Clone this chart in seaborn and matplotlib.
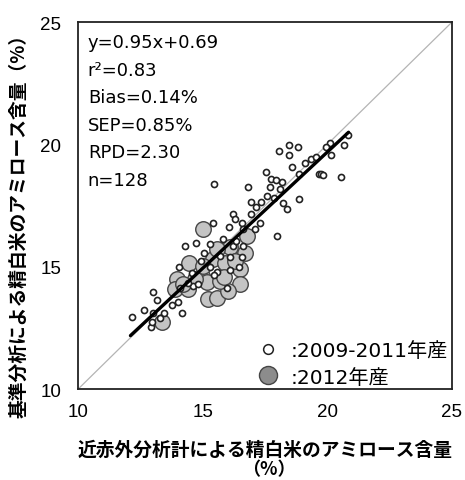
import matplotlib
matplotlib.use("Agg")
import matplotlib.pyplot as plt
from matplotlib.lines import Line2D
import numpy as np
import pandas as pd
import seaborn as sns

# Amylose content of milled rice: NIR analyser (x) vs. reference method (y), %
nir_0911 = [12.18, 12.65, 13.01, 13.15, 12.99, 12.92, 12.95, 13.75, 14.02, 14.15,
            14.04, 14.30, 14.73, 14.92, 15.29, 15.42, 15.46, 15.80, 16.07, 16.20,
            16.31, 16.56, 16.83, 16.93, 16.93, 17.30, 17.34, 17.53, 17.70, 17.74,
            17.87, 17.57, 17.97, 18.24, 18.40, 18.57, 18.88, 18.88, 19.35, 19.55,
            19.67, 19.75, 19.82, 18.04, 18.45, 18.81, 18.48, 18.08, 20.11, 20.14,
            20.55, 20.65, 20.81, 16.44, 15.99, 15.56, 15.29, 14.62, 14.82, 14.09,
            16.09, 16.09, 16.56, 16.63, 16.23, 15.46, 16.63, 17.10, 13.45, 14.55,
            15.70, 16.35, 17.15, 18.20, 19.95, 15.05, 14.40, 13.30, 17.95, 19.10]
ref_0911 = [12.95, 13.24, 13.95, 13.63, 13.13, 12.54, 12.75, 13.44, 13.54, 13.13,
            14.97, 15.85, 15.96, 15.24, 15.95, 16.78, 18.38, 16.15, 16.64, 17.17,
            16.94, 16.78, 18.28, 17.66, 17.17, 16.78, 17.66, 18.87, 18.28, 18.58,
            17.83, 17.90, 16.24, 17.62, 17.38, 19.09, 17.76, 18.78, 19.39, 19.50,
            18.78, 18.78, 18.76, 19.73, 19.98, 19.88, 19.57, 18.17, 20.07, 19.57,
            18.67, 19.98, 20.37, 15.01, 14.15, 14.79, 14.97, 14.22, 14.29, 14.15,
            14.86, 15.38, 15.38, 15.85, 15.85, 14.65, 16.53, 16.53, 13.10, 14.75,
            15.45, 16.05, 17.45, 18.45, 19.90, 15.55, 14.35, 12.90, 18.55, 19.25]

nir_2012 = [15.00, 13.37, 13.95, 13.88, 14.46, 14.42, 15.22, 15.56, 15.42, 15.89,
            16.09, 16.50, 16.50, 16.03, 16.76, 16.70, 14.96, 15.16, 15.69, 15.56,
            14.69, 15.02, 14.20, 15.85, 16.30]
ref_2012 = [16.53, 12.76, 14.52, 14.08, 15.17, 14.08, 13.67, 13.74, 15.31, 15.17,
            15.79, 14.90, 14.29, 14.01, 16.24, 15.58, 14.63, 14.36, 14.42, 15.72,
            14.49, 15.03, 14.30, 14.60, 15.25]

slope, intercept = 0.95, 0.69
fit_range = [12.10, 20.85]

stats_lines = ["y=0.95x+0.69", "r²=0.83", "Bias=0.14%", "SEP=0.85%", "RPD=2.30", "n=128"]
legend_labels = [":2009-2011年産", ":2012年産"]
x_label = "近赤外分析計による精白米のアミロース含量"
x_unit = "（%）"
y_label = "基準分析による精白米のアミロース含量（%）"
axis_ticks = [10, 15, 20, 25]

df_old = pd.DataFrame({"nir": nir_0911, "ref": ref_0911})
df_new = pd.DataFrame({"nir": nir_2012, "ref": ref_2012})

sns.set_style("white")
plt.rcParams["font.family"] = ["Noto Sans CJK JP", "DejaVu Sans"]
plt.rcParams.update({"text.color": "black", "axes.labelcolor": "black",
                     "xtick.color": "black", "ytick.color": "black"})
latin_first = ["DejaVu Sans", "Noto Sans CJK JP"]

fig = plt.figure(figsize=(4.65, 4.81), dpi=100)
ax = fig.add_axes([0.168, 0.189, 0.804, 0.763])

# 1:1 reference line
ax.plot([10, 25], [10, 25], color="#b4b4b4", lw=0.9, zorder=1)

sns.scatterplot(data=df_new, x="nir", y="ref", ax=ax, s=125, color="#c4c4c4",
                edgecolor="#454545", linewidth=1.0, zorder=2)
sns.scatterplot(data=df_old, x="nir", y="ref", ax=ax, s=19, facecolor="white",
                edgecolor="#222222", linewidth=1.2, zorder=3)

fx = np.array(fit_range)
ax.plot(fx, slope * fx + intercept, color="black", lw=2.4, zorder=4,
        solid_capstyle="round")

ax.set_xlim(10, 25)
ax.set_ylim(10, 25)
ax.set_xticks(axis_ticks)
ax.set_yticks(axis_ticks)
ax.tick_params(direction="in", length=6, width=1.0, labelsize=13.5,
               color="#333333", labelcolor="black")
ax.tick_params(axis="x", pad=10)
ax.tick_params(axis="y", pad=12)
for lab in ax.get_xticklabels() + ax.get_yticklabels():
    lab.set_fontfamily(["Liberation Sans", "DejaVu Sans"])
for sp in ax.spines.values():
    sp.set_linewidth(1.3)
    sp.set_color("#222222")

ax.set_xlabel(x_label, fontsize=13.5, fontweight="bold")
ax.xaxis.set_label_coords(0.5, -0.139)
ax.text(0.51, -0.217, x_unit, transform=ax.transAxes, fontsize=13,
        fontweight="bold", ha="center", va="center")
ax.set_ylabel(y_label, fontsize=13.5, fontweight="bold")
ax.yaxis.set_label_coords(-0.134, 0.46)

ax.text(0.026, 0.97, "\n".join(stats_lines), transform=ax.transAxes,
        fontsize=13, va="top", ha="left", linespacing=1.68, family=latin_first)

handles = [
    Line2D([], [], marker="o", ls="none", markersize=7, markerfacecolor="white",
           markeredgecolor="#222222", markeredgewidth=1.1),
    Line2D([], [], marker="o", ls="none", markersize=13, markerfacecolor="#8c8c8c",
           markeredgecolor="#454545", markeredgewidth=1.0),
]
ax.legend(handles, legend_labels, loc="lower right", frameon=False,
          bbox_to_anchor=(1.01, -0.015),
          prop={"family": latin_first, "size": 14.5},
          handletextpad=0.4, labelspacing=0.38, borderaxespad=0.0,
          handlelength=1.4)

fig.savefig("out.png", dpi=100)
